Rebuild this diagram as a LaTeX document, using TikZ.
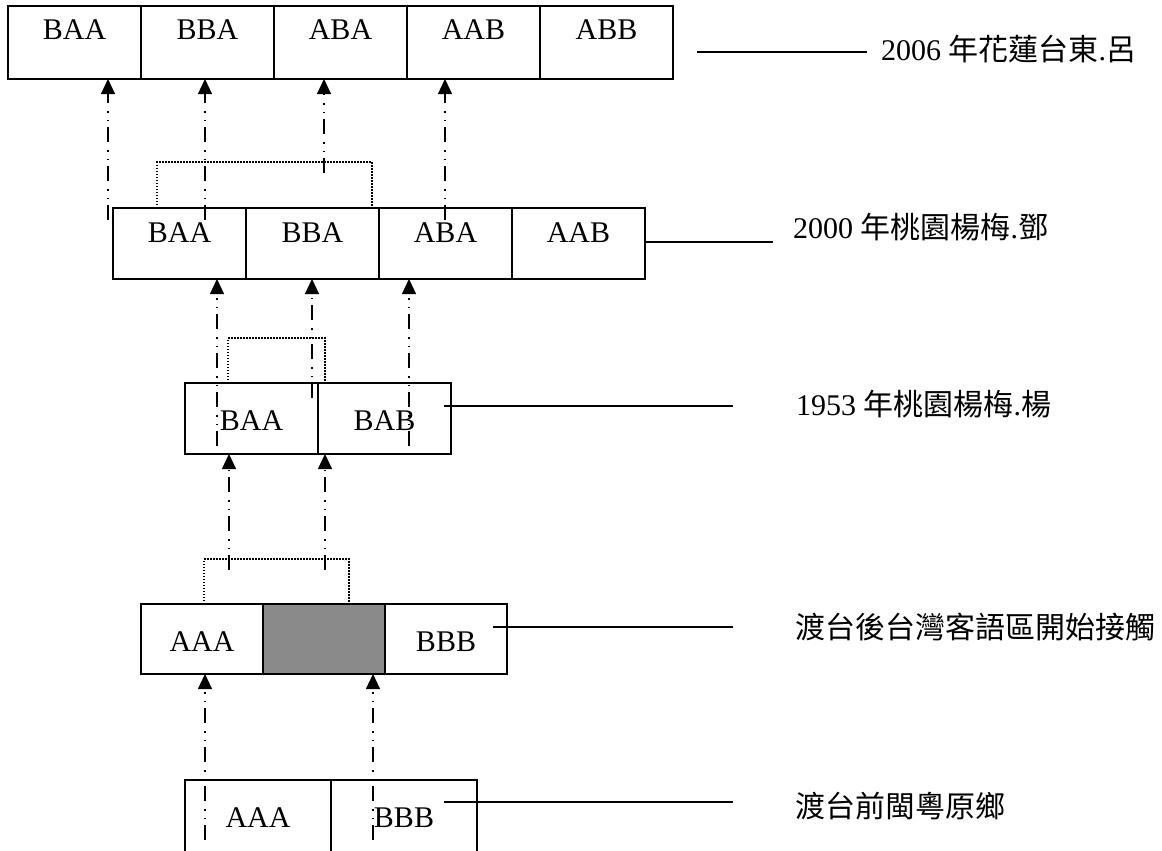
\documentclass[tikz,border=0pt]{standalone}
\usepackage{fontspec}
\setmainfont{Liberation Serif}
\newfontfamily\cjk{Noto Sans CJK TC}
\usetikzlibrary{arrows.meta}
\definecolor{ink}{HTML}{000000}
\definecolor{shade}{HTML}{8A8A8A}
\tikzset{
  cell/.style={draw=ink, line width=1.6pt, inner sep=0pt, outer sep=0pt, anchor=north west, font=\fontsize{30}{36}\selectfont},
  hi/.style={cell, text height=34pt, text depth=#1},
  mid/.style={cell, text height=47pt, text depth=#1},
  link/.style={draw=ink, line width=1.2pt, dash pattern=on 15pt off 6pt on 1.5pt off 7pt on 1.5pt off 8pt},
  flow/.style={link, -{Triangle[width=14pt,length=15pt]}},
  grp/.style={draw=ink, line width=1.3pt, dash pattern=on 1.5pt off 1.5pt},
  lead/.style={draw=ink, line width=1.5pt},
  lab/.style={anchor=base west, inner sep=0pt, font=\fontsize{30}{36}\selectfont},
}
\begin{document}
\begin{tikzpicture}[x=1pt,y=-1pt]
  \clip (0,0) rectangle (1162,851);
  % generations, newest on top
  \foreach \t [count=\i] in {BAA,BBA,ABA,AAB,ABB}
    \node[hi=39pt, minimum width=133pt] (r1-\i) at ({8+133*(\i-1)},6) {\t};
  \foreach \t [count=\i] in {BAA,BBA,ABA,AAB}
    \node[hi=37pt, minimum width=133pt] (r2-\i) at ({113+133*(\i-1)},208) {\t};
  \foreach \t [count=\i] in {BAA,BAB}
    \node[mid=24pt, minimum width=133pt] (r3-\i) at ({185+133*(\i-1)},383) {\t};
  \foreach \t/\f [count=\i] in {AAA/white,{}/shade,BBB/white}
    \node[mid=23pt, minimum width=122pt, fill=\f] (r4-\i) at ({141+122*(\i-1)},604) {\t};
  \foreach \t [count=\i] in {AAA,BBB}
    \node[mid=30pt, minimum width=146pt] (r5-\i) at ({185+146*(\i-1)},780) {\t};

  % row 2 -> row 1
  \coordinate (u1) at (108,220);
  \coordinate (u2) at (205,220);
  \coordinate (u3) at (324,173);
  \coordinate (u4) at (445,220);
  \foreach \c in {u1,u2,u3,u4}
    \draw[flow] (\c) -- (\c |- r1-1.south);
  \coordinate (g1) at (157,162);
  \coordinate (g1e) at (372,162);
  \draw[grp] (g1 |- r2-1.north) |- (g1e) -- (g1e |- r2-1.north);

  % row 3 -> row 2
  \coordinate (v1) at (217,446);
  \coordinate (v2) at (312,398);
  \coordinate (v3) at (409,446);
  \foreach \c in {v1,v2,v3}
    \draw[flow] (\c) -- (\c |- r2-1.south);
  \coordinate (g2) at (228,338);
  \coordinate (g2e) at (325,338);
  \draw[grp] (g2 |- r3-1.north) |- (g2e) -- (g2e |- r3-1.north);

  % row 4 -> row 3
  \coordinate (w1) at (229,570);
  \coordinate (w2) at (325,570);
  \foreach \c in {w1,w2}
    \draw[flow] (\c) -- (\c |- r3-1.south);
  \coordinate (g3) at (204,559);
  \coordinate (g3e) at (349,559);
  \draw[grp] (g3 |- r4-1.north) |- (g3e) -- (g3e |- r4-1.north);

  % row 5 -> row 4
  \coordinate (x1) at (205,840);
  \coordinate (x2) at (373,840);
  \foreach \c in {x1,x2}
    \draw[flow] (\c) -- (\c |- r4-1.south);

  % labels
  \node[lab] (l1) at (881,60) {2006 {\cjk 年花蓮台東}.{\cjk 呂}};
  \node[lab] (l2) at (793,238) {2000 {\cjk 年桃園楊梅}.{\cjk 鄧}};
  \node[lab] (l3) at (796,415) {1953 {\cjk 年桃園楊梅}.{\cjk 楊}};
  \node[lab] (l4) at (795,638) {\cjk 渡台後台灣客語區開始接觸};
  \node[lab] (l5) at (795,817) {\cjk 渡台前閩粵原鄉};

  \coordinate (s1) at (697,52);
  \coordinate (s2) at (645,242);
  \coordinate (s3) at (444,406);
  \coordinate (s4) at (493,627);
  \coordinate (s5) at (444,802);
  \draw[lead, shorten >=14pt] (s1) -- (s1 -| l1.west);
  \draw[lead, shorten >=20pt] (s2) -- (s2 -| l2.west);
  \draw[lead, shorten >=63pt] (s3) -- (s3 -| l3.west);
  \draw[lead, shorten >=62pt] (s4) -- (s4 -| l4.west);
  \draw[lead, shorten >=62pt] (s5) -- (s5 -| l5.west);
\end{tikzpicture}
\end{document}
